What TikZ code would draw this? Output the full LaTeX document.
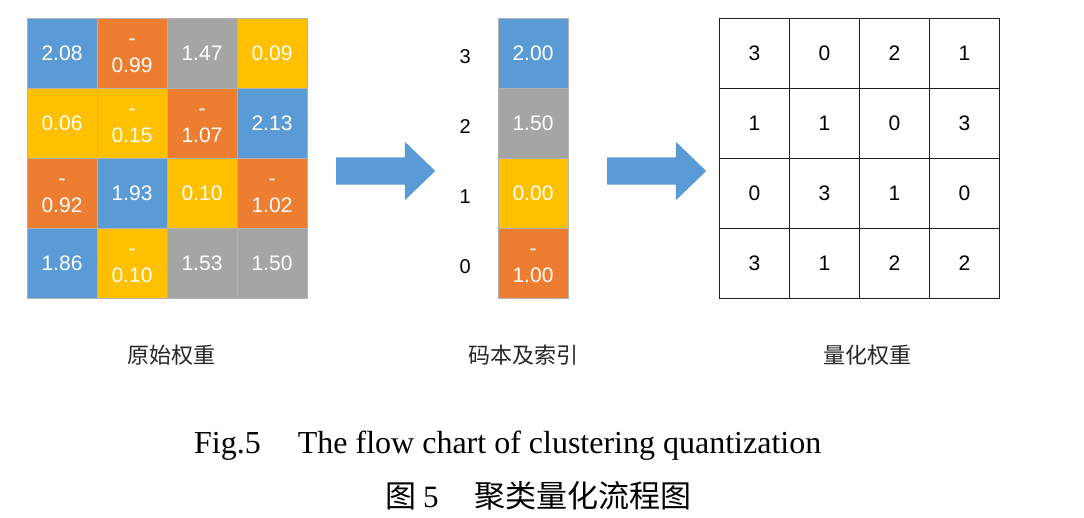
\documentclass[tikz,border=0pt]{standalone}
\usepackage{fontspec}
\setmainfont{Liberation Sans}
\newfontfamily\capfont{Liberation Serif}
\newfontfamily\cjk{Noto Sans CJK SC}
\usetikzlibrary{shapes.arrows, positioning}
\definecolor{wblue}{RGB}{91, 155, 213}
\definecolor{worange}{RGB}{237, 125, 49}
\definecolor{wgray}{RGB}{165, 165, 165}
\definecolor{wyellow}{RGB}{255, 192, 0}
\definecolor{gridink}{RGB}{30, 30, 30}
\newcommand{\negcell}[1]{\strut-\\\strut#1}

\begin{document}
\begin{tikzpicture}[
    x=1pt, y=-1pt,
    cell/.style     = {minimum size=70pt, inner sep=0pt, outer sep=0pt, fill=#1, draw=black!30, line width=0.7pt, text=white, align=center, font=\fontsize{21}{27}\selectfont},
    qcell/.style    = {minimum size=70pt, inner sep=0pt, outer sep=0pt, draw=gridink, line width=1.3pt, font=\fontsize{21}{27}\selectfont},
    idx/.style      = {font=\fontsize{20}{24}\selectfont, inner sep=0pt, yshift=-3pt},
    lbl/.style      = {font=\cjk\fontsize{22}{26}\selectfont, text=black!85, inner sep=0pt},
    figcap/.style   = {font=\capfont\fontsize{32}{36}\selectfont, anchor=base west, inner sep=0pt},
    bigarrow/.style = {single arrow, fill=wblue, inner sep=13.5pt, minimum height=99pt, single arrow head extend=15.5pt, single arrow tip angle=88, anchor=tail},
  ]
    \useasboundingbox (0,0) rectangle (1084,518);
    \def\lx{62}     % left grid, first column
    \def\cx{533}    % codebook column
    \def\rx{754.5}  % right grid, first column
    \def\ty{53.5}   % first row
    \def\cs{70}     % cell size

    % ── original weights ──
    \node[cell=wblue]   (w11) at (\lx, \ty)                 {2.08};
    \node[cell=worange] (w12) at (\lx+\cs, \ty)             {\negcell{0.99}};
    \node[cell=wgray]   (w13) at (\lx+2*\cs, \ty)           {1.47};
    \node[cell=wyellow] (w14) at (\lx+3*\cs, \ty)           {0.09};
    \node[cell=wyellow] (w21) at (\lx, \ty+\cs)             {0.06};
    \node[cell=wyellow] (w22) at (\lx+\cs, \ty+\cs)         {\negcell{0.15}};
    \node[cell=worange] (w23) at (\lx+2*\cs, \ty+\cs)       {\negcell{1.07}};
    \node[cell=wblue]   (w24) at (\lx+3*\cs, \ty+\cs)       {2.13};
    \node[cell=worange] (w31) at (\lx, \ty+2*\cs)           {\negcell{0.92}};
    \node[cell=wblue]   (w32) at (\lx+\cs, \ty+2*\cs)       {1.93};
    \node[cell=wyellow] (w33) at (\lx+2*\cs, \ty+2*\cs)     {0.10};
    \node[cell=worange] (w34) at (\lx+3*\cs, \ty+2*\cs)     {\negcell{1.02}};
    \node[cell=wblue]   (w41) at (\lx, \ty+3*\cs)           {1.86};
    \node[cell=wyellow] (w42) at (\lx+\cs, \ty+3*\cs)       {\negcell{0.10}};
    \node[cell=wgray]   (w43) at (\lx+2*\cs, \ty+3*\cs)     {1.53};
    \node[cell=wgray]   (w44) at (\lx+3*\cs, \ty+3*\cs)     {1.50};

    % ── codebook and indices ──
    \node[cell=wblue]   (c3) at (\cx, \ty)                  {2.00};
    \node[cell=wgray]   (c2) at (\cx, \ty+\cs)              {1.50};
    \node[cell=wyellow] (c1) at (\cx, \ty+2*\cs)            {0.00};
    \node[cell=worange] (c0) at (\cx, \ty+3*\cs)            {\negcell{1.00}};
    \node[idx, left=27pt of c3] (i3) {3};
    \node[idx, left=27pt of c2] (i2) {2};
    \node[idx, left=27pt of c1] (i1) {1};
    \node[idx, left=27pt of c0] (i0) {0};

    % ── quantized weights ──
    \node[qcell] (q11) at (\rx, \ty)                        {3};
    \node[qcell] (q12) at (\rx+\cs, \ty)                    {0};
    \node[qcell] (q13) at (\rx+2*\cs, \ty)                  {2};
    \node[qcell] (q14) at (\rx+3*\cs, \ty)                  {1};
    \node[qcell] (q21) at (\rx, \ty+\cs)                    {1};
    \node[qcell] (q22) at (\rx+\cs, \ty+\cs)                {1};
    \node[qcell] (q23) at (\rx+2*\cs, \ty+\cs)              {0};
    \node[qcell] (q24) at (\rx+3*\cs, \ty+\cs)              {3};
    \node[qcell] (q31) at (\rx, \ty+2*\cs)                  {0};
    \node[qcell] (q32) at (\rx+\cs, \ty+2*\cs)              {3};
    \node[qcell] (q33) at (\rx+2*\cs, \ty+2*\cs)            {1};
    \node[qcell] (q34) at (\rx+3*\cs, \ty+2*\cs)            {0};
    \node[qcell] (q41) at (\rx, \ty+3*\cs)                  {3};
    \node[qcell] (q42) at (\rx+\cs, \ty+3*\cs)              {1};
    \node[qcell] (q43) at (\rx+2*\cs, \ty+3*\cs)            {2};
    \node[qcell] (q44) at (\rx+3*\cs, \ty+3*\cs)            {2};

    % ── block arrows ──
    \node[bigarrow] (a1) at (336, 171) {};
    \node[bigarrow] (a2) at (607, 171) {};

    % ── labels ──
    \node[lbl] (l1) at (171, 355) {原始权重};
    \node[lbl] (l2) at (523, 355) {码本及索引};
    \node[lbl] (l3) at (867, 355) {量化权重};

    % ── caption ──
    \node[figcap] (f1) at (194, 453) {Fig.5\hspace{37pt}The flow chart of clustering quantization};
    \node[figcap, font=\capfont\fontsize{31}{36}\selectfont] (f2) at (385, 507) {{\cjk 图}\hspace{7pt}5\hspace{36pt}{\cjk 聚类量化流程图}};

  \end{tikzpicture}
\end{document}
